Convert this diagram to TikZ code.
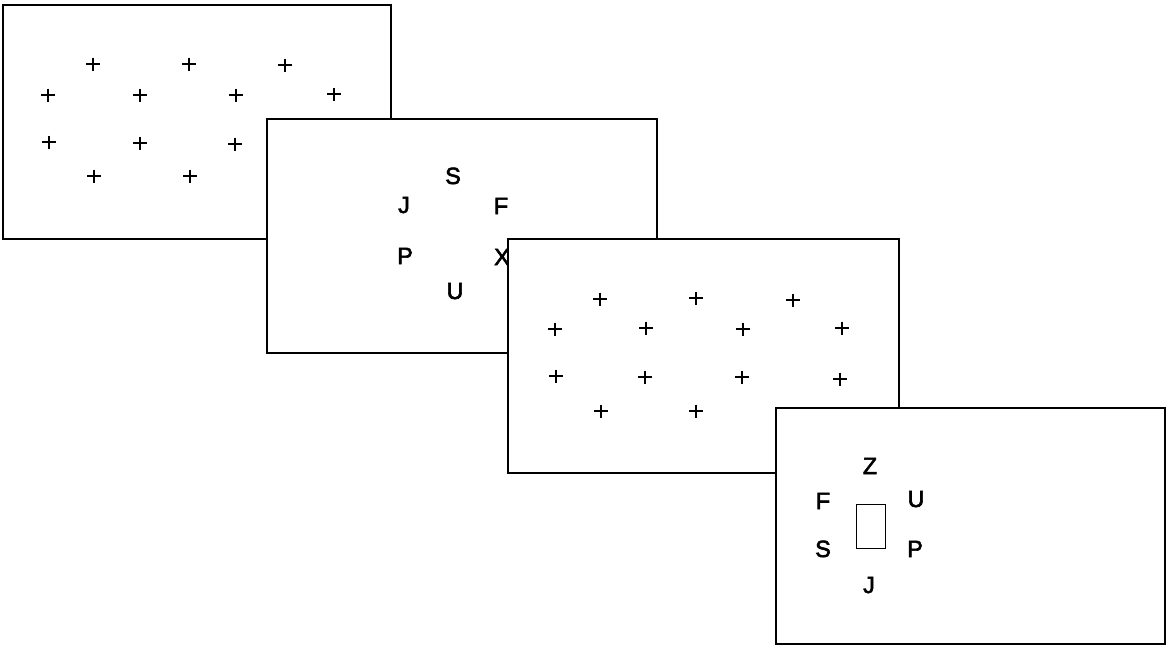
\documentclass[tikz,border=0pt]{standalone}
\usepackage{fontspec}
\setmainfont{Liberation Sans}
\newfontfamily\letterfont{Liberation Sans}[FakeBold=2.5]

\tikzset{
  frame/.style={draw, line width=2.8pt, fill=white},
  letter/.style={anchor=base, inner sep=0pt, font=\letterfont\fontsize{23.5}{26}\selectfont},
  cue/.style={draw, line width=1pt},
  pics/plusmark/.style={code={\draw[line width=2pt] (-7,0) -- (7,0) (0,-6.5) -- (0,6.5);}},
}

\begin{document}
\begin{tikzpicture}[x=1pt, y=-1pt]
  \useasboundingbox (0,0) rectangle (1167,646);
  % fixation display 1
  \draw[frame] (3,5) rectangle (391,239);
  \pic at (93,64) {plusmark};
  \pic at (189,64) {plusmark};
  \pic at (285,65) {plusmark};
  \pic at (48,95) {plusmark};
  \pic at (140,95) {plusmark};
  \pic at (236,95) {plusmark};
  \pic at (334,94) {plusmark};
  \pic at (49,142) {plusmark};
  \pic at (140,143) {plusmark};
  \pic at (235,144) {plusmark};
  \pic at (94,176) {plusmark};
  \pic at (190,176) {plusmark};
  % letter array 1
  \draw[frame] (267,119) rectangle (657,353);
  \node[letter] (s1) at (453,184) {S};
  \node[letter] (j1) at (404,213) {J};
  \node[letter] (f1) at (501,214) {F};
  \node[letter] (p1) at (405,264) {P};
  \node[letter] (x1) at (502,265) {X};
  \node[letter] (u1) at (455,299) {U};
  % fixation display 2
  \draw[frame] (508,239) rectangle (899,473);
  \pic at (600,299) {plusmark};
  \pic at (696,298) {plusmark};
  \pic at (793,300) {plusmark};
  \pic at (555,329) {plusmark};
  \pic at (646,328) {plusmark};
  \pic at (743,329) {plusmark};
  \pic at (842,328) {plusmark};
  \pic at (556,376) {plusmark};
  \pic at (645,377) {plusmark};
  \pic at (742,377) {plusmark};
  \pic at (840,379) {plusmark};
  \pic at (601,411) {plusmark};
  \pic at (696,411) {plusmark};
  % letter array 2 with probe box
  \draw[frame] (776,408) rectangle (1165,644);
  \node[letter] (z2) at (870,474) {Z};
  \node[letter] (f2) at (823,509) {F};
  \node[letter] (u2) at (916,507) {U};
  \node[letter] (s2) at (823,557) {S};
  \node[letter] (p2) at (915,557) {P};
  \node[letter] (j2) at (869,593) {J};
  \draw[cue] (856,504) rectangle (885,548);
\end{tikzpicture}
\end{document}
